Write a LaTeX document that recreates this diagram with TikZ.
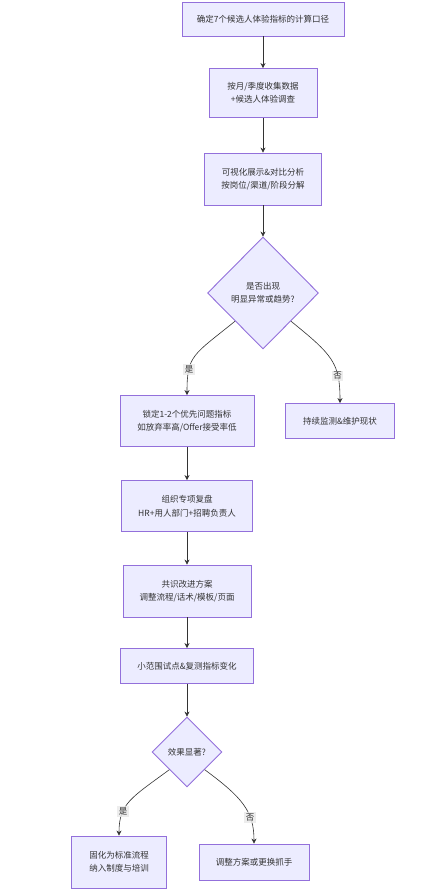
\documentclass[tikz,border=0pt]{standalone}
\usepackage{fontspec}
\setmainfont{Noto Sans CJK SC}
\usepackage{tikz}
\usetikzlibrary{positioning}
\usetikzlibrary{arrows.meta}
\usetikzlibrary{shapes.geometric}
\definecolor{boxfill}{HTML}{ECECFF}
\definecolor{boxline}{HTML}{9370DB}
\definecolor{inkline}{HTML}{333333}
\definecolor{lblfill}{HTML}{E8E8E8}

\begin{document}
\begin{tikzpicture}[x=1pt, y=-1pt, >={Stealth[length=5pt,width=5pt]},
    every node/.style={font=\fontsize{8.5pt}{13.5pt}\selectfont, text=inkline},
    stepbox/.style={draw=boxline, fill=boxfill, line width=0.9pt, align=center, inner sep=2pt},
    choice/.style={diamond, draw=boxline, fill=boxfill, line width=0.9pt, align=center, inner sep=0pt},
    flow/.style={->, draw=inkline, line width=0.6pt},
    lbl/.style={fill=lblfill, fill opacity=0.8, text opacity=1, inner sep=1.5pt}]
        \useasboundingbox (0,0) rectangle (441,891);

        % Upper chain
        \node[stepbox, minimum width=162pt, minimum height=34pt] (caliber) at (263,19) {确定7个候选人体验指标的计算口径};
        \node[stepbox, minimum width=108pt, minimum height=49pt] (collect) at (263,93) {按月/季度收集数据\\+候选人体验调查};
        \node[stepbox, minimum width=117pt, minimum height=52pt] (visual) at (263,179) {可视化展示\&对比分析\\按岗位/渠道/阶段分解};
        \node[choice, minimum width=111pt, minimum height=112pt] (trend) at (263,293) {是否出现\\明显异常或趋势?};

        % Two outcomes
        \node[stepbox, minimum width=134pt, minimum height=51pt] (focus) at (187,421) {锁定1-2个优先问题指标\\如放弃率高/Offer接受率低};
        \node[stepbox, minimum width=109pt, minimum height=35pt] (keep) at (340,421) {持续监测\&维护现状};

        % Improvement loop
        \node[stepbox, minimum width=131pt, minimum height=51pt] (review) at (187,506) {组织专项复盘\\HR+用人部门+招聘负责人};
        \node[stepbox, minimum width=128pt, minimum height=52pt] (plan) at (187,591) {共识改进方案\\调整流程/话术/模板/页面};
        \node[stepbox, minimum width=133pt, minimum height=35pt] (pilot) at (187,666) {小范围试点\&复测指标变化};
        \node[choice, minimum width=70pt, minimum height=70pt] (effect) at (187,752) {效果显著?};
        \node[stepbox, minimum width=95pt, minimum height=52pt] (fix) at (119,862) {固化为标准流程\\纳入制度与培训};
        \node[stepbox, minimum width=110pt, minimum height=36pt] (swap) at (254,862) {调整方案或更换抓手};

        % Connectors
        \draw[flow] (caliber) -- (collect);
        \draw[flow] (collect) -- (visual);
        \draw[flow] (visual) -- (trend);
        \draw[flow] (trend.south west) .. controls +(-42,34) and +(0,-40) .. (focus.north)
            node[lbl, pos=0.72] {是};
        \draw[flow] (trend.south east) .. controls +(42,34) and +(0,-40) .. (keep.north)
            node[lbl, pos=0.72] {否};
        \draw[flow] (focus) -- (review);
        \draw[flow] (review) -- (plan);
        \draw[flow] (plan) -- (pilot);
        \draw[flow] (pilot) -- (effect);
        \draw[flow] (effect.south west) .. controls +(-38,28) and +(0,-32) .. (fix.north)
            node[lbl, pos=0.68] {是};
        \draw[flow] (effect.south east) .. controls +(38,28) and +(0,-32) .. (swap.north)
            node[lbl, pos=0.68] {否};
\end{tikzpicture}
\end{document}
